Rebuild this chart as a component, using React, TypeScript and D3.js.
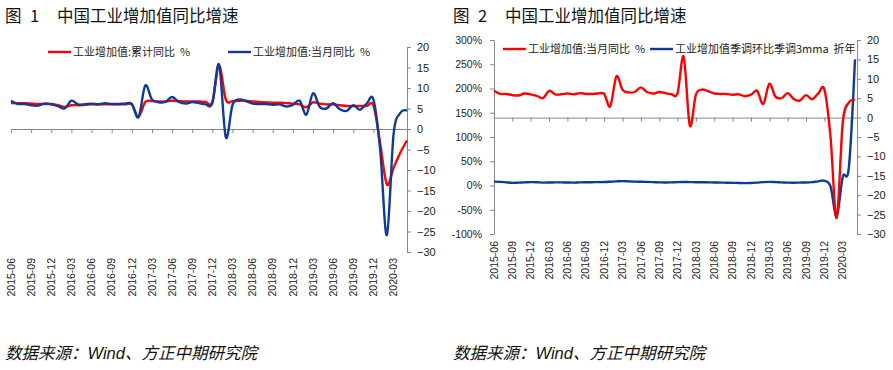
import { useEffect, useRef } from 'react';
import * as d3 from 'd3';

// monthly categories 2015-06 .. 2020-05
const months = [
  '2015-06', '2015-07', '2015-08', '2015-09', '2015-10', '2015-11', '2015-12',
  '2016-01', '2016-02', '2016-03', '2016-04', '2016-05', '2016-06', '2016-07', '2016-08', '2016-09', '2016-10', '2016-11', '2016-12',
  '2017-01', '2017-02', '2017-03', '2017-04', '2017-05', '2017-06', '2017-07', '2017-08', '2017-09', '2017-10', '2017-11', '2017-12',
  '2018-01', '2018-02', '2018-03', '2018-04', '2018-05', '2018-06', '2018-07', '2018-08', '2018-09', '2018-10', '2018-11', '2018-12',
  '2019-01', '2019-02', '2019-03', '2019-04', '2019-05', '2019-06', '2019-07', '2019-08', '2019-09', '2019-10', '2019-11', '2019-12',
  '2020-01', '2020-02', '2020-03', '2020-04', '2020-05',
];

const tickMonths = [
  '2015-06', '2015-09', '2015-12', '2016-03', '2016-06', '2016-09', '2016-12',
  '2017-03', '2017-06', '2017-09', '2017-12', '2018-03', '2018-06', '2018-09', '2018-12',
  '2019-03', '2019-06', '2019-09', '2019-12', '2020-03',
];

// 工业增加值:累计同比 %
const ytdYoY = [
  6.3, 6.3, 6.3, 6.2, 6.1, 6.1, 6.1,
  5.8, 5.4, 5.8, 5.8, 5.9, 6.0, 6.0, 6.0, 6.0, 6.0, 6.0, 6.0,
  3.0, 6.6, 6.8, 6.7, 6.7, 6.9, 6.8, 6.7, 6.7, 6.7, 6.6, 6.6,
  15.5, 7.2, 6.8, 6.9, 6.9, 6.7, 6.6, 6.5, 6.4, 6.4, 6.3, 6.2,
  6.0, 5.3, 6.5, 6.2, 6.0, 6.0, 5.8, 5.6, 5.6, 5.6, 5.6, 5.7,
  -3.5, -13.5, -9.5, -5.8, -2.8,
];

// 工业增加值:当月同比 %
const monthYoY = [
  6.9, 6.1, 6.1, 5.8, 5.7, 6.2, 6.0,
  5.6, 5.0, 6.9, 6.0, 6.0, 6.2, 6.0, 6.3, 6.1, 6.1, 6.2, 6.1,
  2.9, 10.6, 7.2, 6.5, 6.6, 7.8, 6.6, 6.2, 6.6, 6.3, 6.0, 6.3,
  15.7, -2.0, 5.9, 7.2, 6.8, 6.2, 6.1, 6.1, 5.9, 6.0, 5.5, 5.9,
  6.9, 3.5, 8.7, 5.4, 5.0, 6.3, 4.8, 4.4, 5.8, 4.7, 6.2, 7.2,
  -5.0, -25.9, -1.3, 3.9, 4.5,
];

// 工业增加值季调环比季调3mma 折年 (%)
const saAnnualized = [
  8.0, 7.5, 6.5, 5.5, 6.0, 6.5, 7.0,
  6.8, 6.0, 6.2, 6.5, 6.5, 6.2, 6.0, 6.5, 6.8, 6.8, 7.0, 7.2,
  7.8, 8.5, 9.0, 8.5, 8.0, 7.8, 7.5, 7.0, 6.5, 6.2, 6.5, 7.0,
  7.2, 7.0, 6.8, 6.8, 6.5, 6.2, 6.0, 5.8, 5.5, 5.2, 5.0, 5.2,
  6.0, 7.0, 7.5, 7.0, 6.5, 6.0, 5.8, 6.0, 6.2, 7.0, 8.5, 9.7,
  -2, -64, 18, 38, 260,
];

const ticksPct = [-30, -25, -20, -15, -10, -5, 0, 5, 10, 15, 20];
const ticksLeft2 = [-100, -50, 0, 50, 100, 150, 200, 250, 300];

const FONT = '"Liberation Sans", "Noto Sans CJK SC", sans-serif';
const CJK = '"Noto Sans CJK SC", sans-serif';
const RED = '#ff0000';
const BLUE = '#0f3a99';
const AXIS = '#868686';
const TEXT = '#222';

const styleAxis = (g: any, size: number) => {
  g.attr('font-family', FONT).attr('font-size', size);
  g.select('.domain').attr('stroke', AXIS);
  g.selectAll('.tick line').attr('stroke', AXIS);
  g.selectAll('.tick text').attr('fill', TEXT);
};

export default function App() {
  const ref = useRef<SVGSVGElement>(null);

  useEffect(() => {
    const svg = d3.select(ref.current);
    svg.selectAll('*').remove();

    const title = (x0: number, n: string) => {
      const t = svg.append('g').attr('font-family', CJK).attr('font-size', 16.5).attr('fill', '#111');
      t.append('text').attr('x', x0).attr('y', 22).text('图');
      t.append('text').attr('x', x0 + 25).attr('y', 22).text(n);
      t.append('text').attr('x', x0 + 52).attr('y', 22).text('中国工业增加值同比增速');
    };
    title(5, '1');
    title(453, '2');

    const legend = (items: { x: number; color: string; label: string }[], y: number) => {
      const g = svg.append('g').attr('font-family', CJK).attr('font-size', 11).attr('fill', TEXT);
      items.forEach(it => {
        g.append('line').attr('x1', it.x).attr('x2', it.x + 23).attr('y1', y).attr('y2', y)
          .attr('stroke', it.color).attr('stroke-width', 2.4);
        g.append('text').attr('x', it.x + 25).attr('y', y + 4).text(it.label);
      });
    };

    const xLabels = (x: any, top: number) => {
      const g = svg.append('g').attr('font-family', FONT).attr('font-size', 10.5).attr('fill', TEXT);
      tickMonths.forEach(m => {
        g.append('text')
          .attr('transform', `translate(${x(m)},${top}) rotate(-90)`)
          .attr('text-anchor', 'end')
          .attr('dy', '0.35em')
          .text(m);
      });
    };

    // ---------- chart 1 ----------
    const x1 = d3.scalePoint<string>().domain(months).range([11, 407]);
    const y1 = d3.scaleLinear().domain([-30, 20]).range([252, 47]);

    const cat1 = svg.append('g').attr('transform', `translate(0,${y1(0)})`)
      .call(d3.axisBottom(x1).tickValues(tickMonths).tickSize(4).tickSizeOuter(0).tickFormat(() => ''));
    styleAxis(cat1, 10);

    const r1 = svg.append('g').attr('transform', 'translate(407,0)')
      .call(d3.axisRight(y1).tickValues(ticksPct).tickSize(4).tickSizeOuter(0).tickPadding(6));
    styleAxis(r1, 11);

    xLabels(x1, 258);

    const line1 = d3.line<number>()
      .x((_, i) => x1(months[i]) as number)
      .y(d => y1(d))
      .curve(d3.curveCatmullRom.alpha(0));

    svg.append('path').datum(ytdYoY).attr('d', line1).attr('fill', 'none')
      .attr('stroke', RED).attr('stroke-width', 2.4).attr('stroke-linejoin', 'round');
    svg.append('path').datum(monthYoY).attr('d', line1).attr('fill', 'none')
      .attr('stroke', BLUE).attr('stroke-width', 2.4).attr('stroke-linejoin', 'round');

    legend([
      { x: 48, color: RED, label: '工业增加值:累计同比\u00a0\u00a0%' },
      { x: 228, color: BLUE, label: '工业增加值:当月同比\u00a0\u00a0%' },
    ], 52);

    // ---------- chart 2 ----------
    const x2 = d3.scalePoint<string>().domain(months).range([494, 855]);
    const yL = d3.scaleLinear().domain([-100, 300]).range([234, 40]);
    const yR = d3.scaleLinear().domain([-30, 20]).range([234, 40]);

    const cat2 = svg.append('g').attr('transform', `translate(0,${yR(0)})`)
      .call(d3.axisBottom(x2).tickValues(tickMonths).tickSize(4).tickSizeOuter(0).tickFormat(() => ''));
    styleAxis(cat2, 10);
    cat2.select('.domain').attr('d', `M494,0.5H857`);

    const l2 = svg.append('g').attr('transform', 'translate(494,0)')
      .call(d3.axisLeft(yL).tickValues(ticksLeft2).tickSize(4).tickSizeOuter(0).tickPadding(8)
        .tickFormat(d => `${d}%`));
    styleAxis(l2, 10.5);

    const r2 = svg.append('g').attr('transform', 'translate(857,0)')
      .call(d3.axisRight(yR).tickValues(ticksPct).tickSize(4).tickSizeOuter(0).tickPadding(6));
    styleAxis(r2, 11);

    xLabels(x2, 241);

    const lineL = d3.line<number>()
      .x((_, i) => x2(months[i]) as number)
      .y(d => yL(d))
      .curve(d3.curveCatmullRom.alpha(0));
    const lineR = d3.line<number>()
      .x((_, i) => x2(months[i]) as number)
      .y(d => yR(d))
      .curve(d3.curveCatmullRom.alpha(0));

    svg.append('path').datum(saAnnualized).attr('d', lineL).attr('fill', 'none')
      .attr('stroke', BLUE).attr('stroke-width', 2.4).attr('stroke-linejoin', 'round');
    svg.append('path').datum(monthYoY).attr('d', lineR).attr('fill', 'none')
      .attr('stroke', RED).attr('stroke-width', 2.4).attr('stroke-linejoin', 'round');

    legend([
      { x: 503, color: RED, label: '工业增加值:当月同比\u00a0\u00a0%' },
      { x: 650, color: BLUE, label: '工业增加值季调环比季调3mma\u00a0\u00a0折年' },
    ], 49);

    // ---------- sources ----------
    const src = svg.append('g').attr('font-family', FONT).attr('font-size', 16.5)
      .attr('font-style', 'italic').attr('fill', '#111');
    src.append('text').attr('x', 5).attr('y', 359).text('数据来源：Wind、方正中期研究院');
    src.append('text').attr('x', 453).attr('y', 359).text('数据来源：Wind、方正中期研究院');
  }, []);

  return (
    <svg ref={ref} width={893} height={370}
      style={{ position: 'absolute', left: 0, top: 0, background: '#fff' }} />
  );
}
